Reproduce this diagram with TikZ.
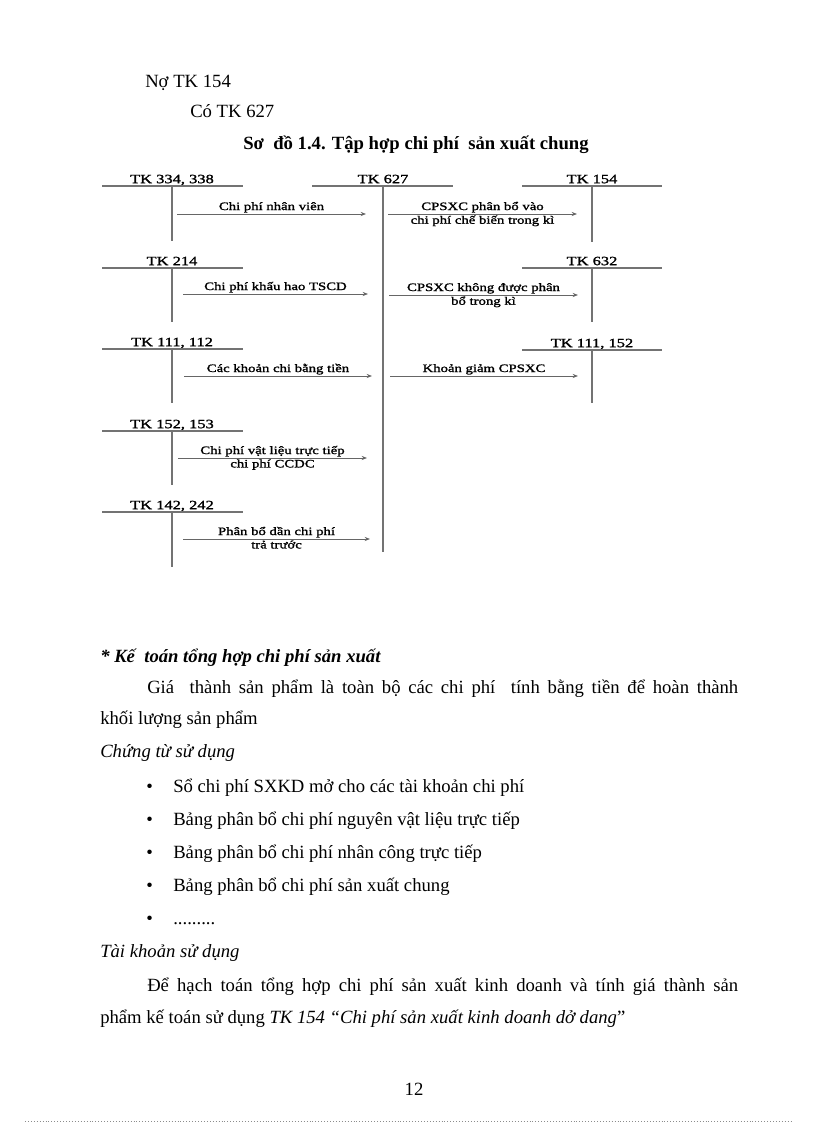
\documentclass[tikz,border=0pt]{standalone}
\usepackage{fontspec}
\setmainfont{Liberation Serif}
\newfontfamily\diagfont[FakeStretch=1.3,FakeBold=1.5]{Liberation Serif}
\usetikzlibrary{arrows.meta, positioning}

\begin{document}
\begin{tikzpicture}[
  x=0.75pt, y=-0.75pt,
  body/.style={anchor=base west, inner sep=0pt, font=\fontsize{14}{17}\selectfont},
  tklabel/.style={anchor=south, inner sep=1pt, text height=1.6ex, text depth=0.2ex,
    font=\diagfont\fontsize{9.5}{11}\selectfont},
  uplabel/.style={above, inner sep=0.8pt, font=\diagfont\fontsize{8.5}{10}\selectfont},
  lowlabel/.style={below, inner sep=0.8pt, font=\diagfont\fontsize{8.5}{10}\selectfont},
  tline/.style={draw=black!55, line width=0.8pt},
  arrow/.style={-{Stealth[length=1.4mm, width=1.1mm]}, draw=black!60, line width=0.7pt}
]
\useasboundingbox (0,0) rectangle (816,1123);

% dinh khoan
\node (no) [body] at (145,88) {Nợ TK 154};
\node (co) [body] at (190,118) {Có TK 627};
\node (title) [body, font=\bfseries\fontsize{14}{17}\selectfont] at (243,150) {Sơ\ \ đồ 1.4. Tập hợp chi phí\ \ sản xuất chung};

% tai khoan ben trai
\node (tk334) [tklabel] at (172,186) {TK 334, 338};
\draw [tline] (102,186) -- (243,186);
\draw [tline] (tk334.south) -- (172,241);
\node (tk214) [tklabel] at (172,268) {TK 214};
\draw [tline] (102,268) -- (243,268);
\draw [tline] (tk214.south) -- (172,322);
\node (tk111l) [tklabel] at (172,349) {TK 111, 112};
\draw [tline] (102,349) -- (243,349);
\draw [tline] (tk111l.south) -- (172,403);
\node (tk152) [tklabel] at (172,431) {TK 152, 153};
\draw [tline] (102,431) -- (243,431);
\draw [tline] (tk152.south) -- (172,485);
\node (tk142) [tklabel] at (172,512) {TK 142, 242};
\draw [tline] (102,512) -- (243,512);
\draw [tline] (tk142.south) -- (172,567);

% TK 627
\node (tk627) [tklabel] at (383,186) {TK 627};
\draw [tline] (312,186) -- (453,186);
\draw [tline] (tk627.south) -- (383,552);

% tai khoan ben phai
\node (tk154) [tklabel] at (592,186) {TK 154};
\draw [tline] (522,186) -- (662,186);
\draw [tline] (tk154.south) -- (592,242);
\node (tk632) [tklabel] at (592,268) {TK 632};
\draw [tline] (522,268) -- (662,268);
\draw [tline] (tk632.south) -- (592,322);
\node (tk111r) [tklabel] at (592,350) {TK 111, 152};
\draw [tline] (522,350) -- (662,350);
\draw [tline] (tk111r.south) -- (592,403);

% diem dau, diem cuoi mui ten
\coordinate (s1) at (177,214); \coordinate (e1) at (366,214);
\coordinate (s2) at (183,294); \coordinate (e2) at (368,294);
\coordinate (s3) at (184,376); \coordinate (e3) at (372,376);
\coordinate (s4) at (178,458); \coordinate (e4) at (367,458);
\coordinate (s5) at (183,539); \coordinate (e5) at (370,539);
\coordinate (r1) at (388,214); \coordinate (f1) at (577,214);
\coordinate (r2) at (389,295); \coordinate (f2) at (578,295);
\coordinate (r3) at (390,376); \coordinate (f3) at (578,376);

% mui ten
\draw [arrow] (s1) -- (e1) node (l1) [uplabel, midway] {Chi phí nhân viên};
\draw [arrow] (s2) -- (e2) node (l2) [uplabel, midway] {Chi phí khấu hao TSCD};
\draw [arrow] (s3) -- (e3) node (l3) [uplabel, midway] {Các khoản chi bằng tiền};
\draw [arrow] (s4) -- (e4) node (l4a) [uplabel, midway] {Chi phí vật liệu trực tiếp}
  node (l4b) [lowlabel, midway] {chi phí CCDC};
\draw [arrow] (s5) -- (e5) node (l5a) [uplabel, midway] {Phân bổ dần chi phí}
  node (l5b) [lowlabel, midway] {trả trước};
\draw [arrow] (r1) -- (f1) node (m1a) [uplabel, midway] {CPSXC phân bổ vào}
  node (m1b) [lowlabel, midway] {chi phí chế biến trong kì};
\draw [arrow] (r2) -- (f2) node (m2a) [uplabel, midway] {CPSXC không được phân}
  node (m2b) [lowlabel, midway] {bổ trong kì};
\draw [arrow] (r3) -- (f3) node (m3) [uplabel, midway] {Khoản giảm CPSXC};

% noi dung ben duoi
\node (ketoan) [body, font=\bfseries\itshape\fontsize{14}{17}\selectfont] at (100,662) {* Kế\ \ toán tổng hợp chi phí sản xuất};
\node (gia) [body] at (147,693) {\makebox[443.25pt][s]{Giá\ \ thành sản phẩm là toàn bộ các chi phí\ \ tính bằng tiền để hoàn thành}};
\node (khoi) [body] at (100,724) {khối lượng sản phẩm};
\node (chungtu) [body, font=\itshape\fontsize{14}{17}\selectfont] at (100,757) {Chứng từ sử dụng};

\node (b1) [body] at (146,792) {\textbullet};
\node (t1) [body] at (173,792) {Sổ chi phí SXKD mở cho các tài khoản chi phí};
\node (b2) [body] at (146,825) {\textbullet};
\node (t2) [body] at (173,825) {Bảng phân bổ chi phí nguyên vật liệu trực tiếp};
\node (b3) [body] at (146,858) {\textbullet};
\node (t3) [body] at (173,858) {Bảng phân bổ chi phí nhân công trực tiếp};
\node (b4) [body] at (146,891) {\textbullet};
\node (t4) [body] at (173,891) {Bảng phân bổ chi phí sản xuất chung};
\node (b5) [body] at (146,924) {\textbullet};
\node (t5) [body] at (173,924) {.........};

\node (taikhoan) [body, font=\itshape\fontsize{14}{17}\selectfont] at (100,957) {Tài khoản sử dụng};
\node (de) [body] at (147,991) {\makebox[443.25pt][s]{Để hạch toán tổng hợp chi phí sản xuất kinh doanh và tính giá thành sản}};
\node (pham) [body] at (100,1023) {phẩm kế toán sử dụng \textit{TK 154 “Chi phí sản xuất kinh doanh dở dang}”};

% so trang
\node (trang) [body, anchor=base] at (414,1095) {12};
\draw [draw=black!45, line width=0.6pt, dash pattern=on 0.6pt off 1.6pt] (25,1121) -- (792,1121);

\end{tikzpicture}
\end{document}
